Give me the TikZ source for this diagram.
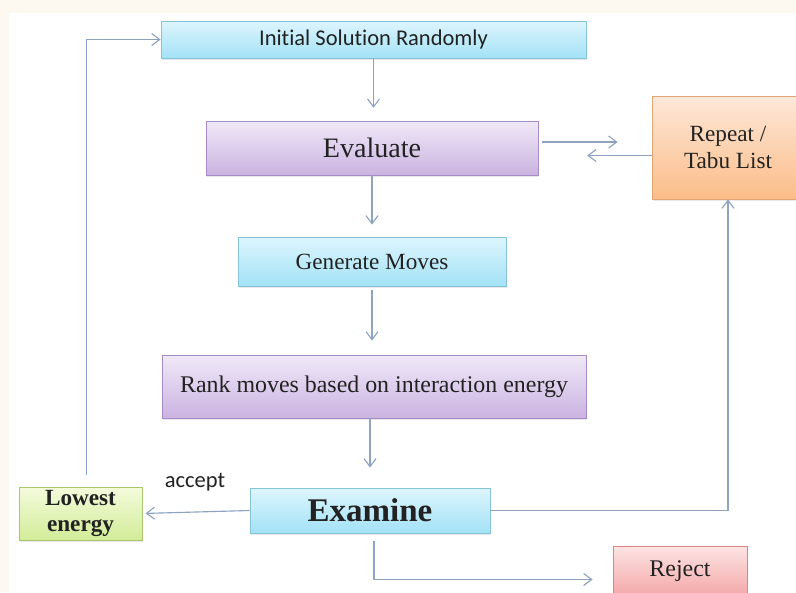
\documentclass[tikz,border=0pt]{standalone}
\usepackage{fontspec}
\setmainfont{Liberation Serif}
\newfontfamily\calib[Ligatures=NoCommon]{Carlito}
\usetikzlibrary{arrows.meta,shadows}

\definecolor{cyantop}{HTML}{DDF5FD}
\definecolor{cyanbot}{HTML}{A3E2F6}
\definecolor{cyanline}{HTML}{86C3D8}
\definecolor{purptop}{HTML}{F0E9F8}
\definecolor{purpbot}{HTML}{CBB3E1}
\definecolor{purpline}{HTML}{A68BC6}
\definecolor{orngtop}{HTML}{FDE8D9}
\definecolor{orngbot}{HTML}{FBBD88}
\definecolor{orngline}{HTML}{E2A674}
\definecolor{greentop}{HTML}{F4FBDC}
\definecolor{greenbot}{HTML}{D2EC98}
\definecolor{greenline}{HTML}{A9C66E}
\definecolor{redtop}{HTML}{FDE3E3}
\definecolor{redbot}{HTML}{F3A7A7}
\definecolor{redline}{HTML}{D98585}
\definecolor{wire}{HTML}{8DA3BF}
\definecolor{cream}{HTML}{FDF8F0}
\definecolor{ink}{HTML}{222222}

\begin{document}
\begin{tikzpicture}[
    box/.style={draw, line width=0.6pt, text=ink, inner sep=0pt, align=center,
      drop shadow={opacity=0.18, shadow xshift=0.8pt, shadow yshift=-1.2pt}},
    cyanbox/.style={box, draw=cyanline, top color=cyantop, bottom color=cyanbot},
    purpbox/.style={box, draw=purpline, top color=purptop, bottom color=purpbot},
    orngbox/.style={box, draw=orngline, top color=orngtop, bottom color=orngbot},
    greenbox/.style={box, draw=greenline, top color=greentop, bottom color=greenbot},
    redbox/.style={box, draw=redline, top color=redtop, bottom color=redbot},
    link/.style={draw=wire, line width=0.8pt, -{Straight Barb[length=2mm,width=3mm]}}
  ]
  % background
  \fill[cream] (0,0) rectangle (19.9,-14.8);
  \fill[white] (0.225,-0.325) rectangle (19.9,-14.8);
  \clip (0,0) rectangle (19.9,-14.8);

  % boxes
  \node[cyanbox, minimum width=10.625cm, minimum height=0.925cm,
    font=\calib\fontsize{16}{18}\selectfont] (init) at (9.3375,-0.9875) {Initial Solution Randomly};
  \node[purpbox, minimum width=8.3cm, minimum height=1.35cm,
    font=\fontsize{20}{22}\selectfont] (eval) at (9.3,-3.7) {Evaluate};
  \node[orngbox, minimum width=3.8cm, minimum height=2.575cm,
    font=\fontsize{16.5}{19}\selectfont] (tabu) at (18.2,-3.6875) {Repeat /\\ Tabu List};
  \node[cyanbox, minimum width=6.7cm, minimum height=1.225cm,
    font=\fontsize{16.5}{19}\selectfont] (gen) at (9.3,-6.5375) {Generate Moves};
  \node[purpbox, minimum width=10.6cm, minimum height=1.575cm,
    font=\fontsize{17}{19}\selectfont] (rank) at (9.35,-9.6625) {Rank moves based on interaction energy};
  \node[cyanbox, minimum width=6cm, minimum height=1.125cm,
    font=\fontsize{23.5}{25}\selectfont\bfseries] (exam) at (9.25,-12.7625) {Examine};
  \node[greenbox, minimum width=3.075cm, minimum height=1.325cm,
    font=\fontsize{16.5}{19}\selectfont\bfseries] (low) at (2.0125,-12.8375) {Lowest\\ energy};
  \node[redbox, minimum width=3.35cm, minimum height=1.25cm,
    font=\fontsize{17}{19}\selectfont] (rej) at (17,-14.2875) {Reject};

  % labels
  \node[text=ink, font=\calib\fontsize{16}{18}\selectfont] (acc) at (4.875,-12.05) {accept};

  % connectors
  \draw[link, shorten >=0.32cm] (init.south) -- (init.south |- eval.north);
  \draw[link, shorten >=0.3cm] (eval.south) -- (eval.south |- gen.north);
  \draw[link, shorten <=0.1cm, shorten >=0.35cm] (gen.south) -- (gen.south |- rank.north);
  \draw[link, shorten >=0.5cm] (exam.north |- rank.south) -- (exam.north);
  \draw[link, shorten <=0.08cm, shorten >=0.85cm] ([yshift=0.15cm]eval.east) -- ([yshift=0.15cm]eval.east -| tabu.west);
  \draw[link, shorten >=1.22cm] ([yshift=-0.2cm]tabu.west) -- ([yshift=-0.2cm]tabu.west -| eval.east);
  \draw[link] (exam.east) -| (tabu.south);
  \draw[link, shorten >=0.08cm] (exam.west) -- (low.east);
  \draw[link, shorten <=0.3cm] ([xshift=0.15cm]low.north) |- (init.west);
  \draw[link, shorten <=0.18cm, shorten >=0.5cm] ([xshift=0.1cm]exam.south) |- ([yshift=-0.2cm]rej.west);
\end{tikzpicture}
\end{document}
